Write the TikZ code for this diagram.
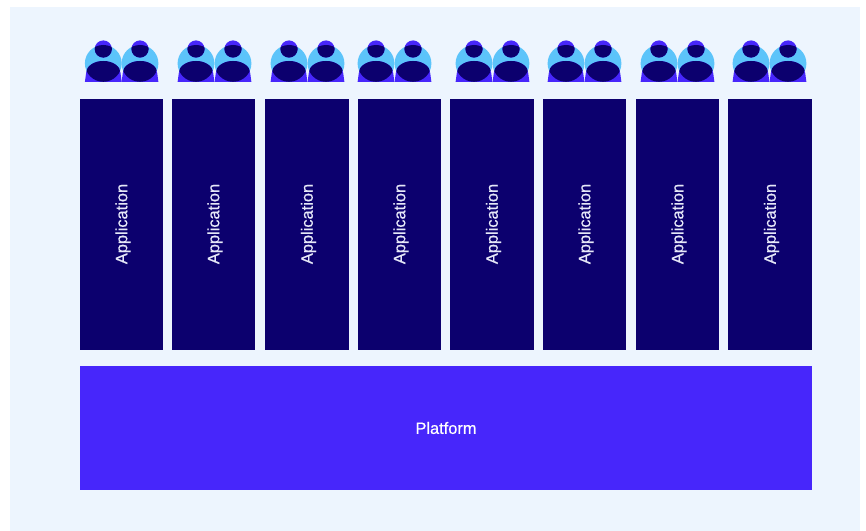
\documentclass[tikz,border=0pt]{standalone}
\usepackage{fontspec}
\setmainfont{Liberation Sans}
\newfontfamily\lblfont[FakeBold=0.6]{Liberation Sans}
\definecolor{pagebg}{HTML}{EDF5FE}
\definecolor{navy}{HTML}{0C006E}
\definecolor{violet}{HTML}{4726FB}
\definecolor{sky}{HTML}{5CC4FA}
\definecolor{labelc}{HTML}{E6E8F8}
\tikzset{
  applabel/.style={text=labelc,font=\lblfont\fontsize{12.3pt}{14pt}\selectfont,rotate=90},
  platbox/.style={fill=violet,draw=none,inner sep=0pt,minimum width=549pt,minimum height=93pt,text=white,font=\lblfont\fontsize{12.3pt}{14pt}\selectfont},
}
\newcommand{\personbody}{(-18.4,82) -- (-17.2,73) arc [start angle=180,end angle=0,x radius=17.2,y radius=-12] -- (18.4,82) -- cycle}
\newcommand{\person}[1]{%
  \begin{scope}[shift={(#1,0)}]
    \fill[sky] (0,63.4) circle (18.4);
    \fill[violet] (0,49) circle (8.6);
    \fill[violet] \personbody;
    \begin{scope}
      \clip (0,63.4) circle (18.4);
      \fill[navy] (0,49) circle (8.6);
      \fill[navy] \personbody;
    \end{scope}
  \end{scope}}
\begin{document}
\begin{tikzpicture}[x=0.75pt,y=-0.75pt]
\useasboundingbox (0,0) rectangle (866,531);
\fill[white] (0,0) rectangle (866,531);
\fill[pagebg] (10,7) rectangle (860,531);
\foreach \px in {103.3,140,196,233,289,326,376,413,474,511,566,603,659,696,751,788}{\person{\px}}
\foreach \n/\l/\r in {a/80/163,b/172/255,c/265/349,d/358/441,e/450/534,f/543/626,g/636/719,h/728/812}{
  \fill[navy] (\l,99) rectangle (\r,350);
  \node[applabel] (app\n) at ({(\l+\r)/2+1.5},224) {Application};
}
\node[platbox] (platform) at (446,428) {Platform};
\end{tikzpicture}
\end{document}
